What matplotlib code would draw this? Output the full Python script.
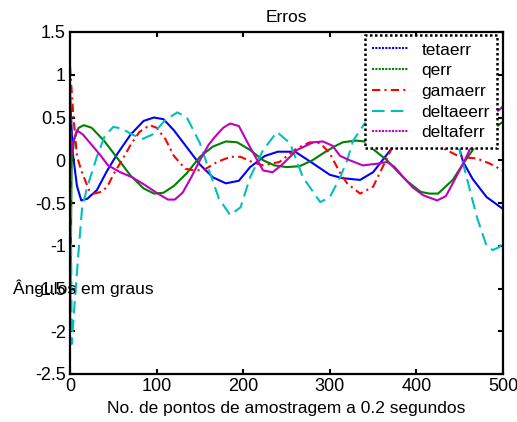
import matplotlib
matplotlib.use("Agg")
import matplotlib.pyplot as plt
from matplotlib.lines import Line2D
from matplotlib.ticker import FixedLocator, FuncFormatter

plt.rcParams['font.family'] = ['Liberation Sans', 'DejaVu Sans']
plt.rcParams['axes.unicode_minus'] = False

# ---- data ----
teta_x = [0, 3, 8, 13, 20, 31, 43, 55, 70, 85, 97, 108, 120, 135, 150, 165, 180, 195, 208, 225,
          240, 260, 281, 300, 315, 335, 350, 370, 385, 400, 420, 435, 447, 454, 465, 481, 500]
teta_y = [0.8, 0.1, -0.3, -0.47, -0.45, -0.35, -0.12, 0.08, 0.3, 0.46, 0.5, 0.48, 0.35, 0.15, -0.05, -0.2, -0.27, -0.24, -0.08, 0.05,
          0.1, 0.1, -0.04, -0.17, -0.21, -0.23, -0.14, 0.12, 0.3, 0.38, 0.38, 0.32, 0.23, -0.02, -0.22, -0.43, -0.57]

q_x = [0, 2, 5, 10, 16, 25, 40, 55, 70, 85, 97, 108, 120, 135, 150, 165, 180, 193, 208, 223,
       236, 250, 265, 280, 292, 305, 315, 330, 340, 350, 366, 380, 390, 405, 415, 425, 442, 454, 465, 480, 500]
q_y = [-2.0, 0.0, 0.25, 0.38, 0.41, 0.38, 0.22, 0.02, -0.18, -0.33, -0.39, -0.38, -0.3, -0.15, 0.04, 0.16, 0.22, 0.21, 0.12, 0.0,
       -0.06, -0.08, -0.07, 0.0, 0.08, 0.16, 0.21, 0.23, 0.22, 0.13, 0.0, -0.15, -0.25, -0.37, -0.39, -0.39, -0.23, -0.04, 0.12, 0.3, 0.45]

gama_x = [0, 4, 8, 13, 22, 28, 36, 43, 51, 60, 70, 80, 92, 100, 110, 120, 133, 145, 155, 170,
          185, 197, 210, 223, 242, 262, 277, 289, 300, 312, 320, 335, 350, 361, 372, 390, 410, 431, 450, 470, 485, 500]
gama_y = [1.1, 0.5, 0.05, -0.12, -0.35, -0.39, -0.37, -0.31, -0.15, 0.0, 0.18, 0.33, 0.41, 0.38, 0.25, 0.05, -0.1, -0.12, -0.11, -0.02,
          0.04, 0.04, -0.02, -0.06, -0.02, 0.14, 0.21, 0.2, 0.08, -0.15, -0.27, -0.39, -0.31, -0.08, 0.15, 0.3, 0.3, 0.14, 0.04, 0.02, -0.04, -0.12]

deltae_x = [0, 2, 5, 10, 14, 20, 31, 40, 50, 60, 72, 84, 95, 110, 124, 135, 150, 160, 172, 185,
            197, 208, 223, 239, 254, 269, 289, 300, 312, 320, 327, 345, 370, 400, 425, 440, 450, 458, 470, 481, 488, 495, 500]
deltae_y = [1.0, -2.15, -1.72, -1.05, -0.55, -0.31, 0.04, 0.28, 0.39, 0.37, 0.3, 0.25, 0.3, 0.47, 0.56, 0.5, 0.2, -0.1, -0.45, -0.64,
            -0.55, -0.2, 0.12, 0.33, 0.2, -0.2, -0.49, -0.43, -0.2, 0.0, 0.23, 0.5, 0.7, 0.75, 0.6, 0.35, 0.12, -0.2, -0.67, -1.0, -1.05, -1.02, -0.97]

deltaf_x = [0, 3, 8, 15, 25, 35, 44, 58, 72, 85, 100, 113, 121, 130, 140, 150, 160, 167, 177, 185,
            195, 208, 223, 234, 245, 262, 281, 292, 303, 312, 323, 338, 355, 366, 375, 385, 396, 408, 424, 434,
            442, 454, 465, 480, 500]
deltaf_y = [-0.1, 0.2, 0.35, 0.3, 0.18, 0.06, -0.06, -0.14, -0.2, -0.28, -0.38, -0.46, -0.46, -0.38, -0.2, 0.0, 0.18, 0.27, 0.38, 0.43,
            0.4, 0.15, -0.12, -0.14, -0.05, 0.12, 0.21, 0.22, 0.17, 0.05, 0.0, -0.06, -0.04, -0.02, -0.08, -0.2, -0.32, -0.41, -0.47, -0.42,
            -0.27, -0.04, 0.2, 0.45, 0.63]

labels = ['tetaerr', 'qerr', 'gamaerr', 'deltaeerr', 'deltaferr']
colors = ['#0000ff', '#008000', '#ff0000', '#00bfbf', '#bf00bf']
x_ticks = [0, 100, 200, 300, 400, 500]
y_ticks = [-2.5, -2, -1.5, -1, -0.5, 0, 0.5, 1, 1.5]
title = 'Erros'
xlabel = 'No. de pontos de amostragem a 0.2 segundos'
ylabel = 'Ângulos em graus'

# ---- figure ----
W, H = 517, 422
fig = plt.figure(figsize=(W / 100, H / 100), dpi=100)
ax = fig.add_axes([70 / W, 1 - 374 / H, (503 - 70) / W, (374 - 32) / H])

lw = 1.5
styles = ['-', '-', (0, (4, 2, 1, 2)), (0, (6, 3)), '-']
series = [(teta_x, teta_y), (q_x, q_y), (gama_x, gama_y), (deltae_x, deltae_y), (deltaf_x, deltaf_y)]
for (xs, ys), c, ls in zip(series, colors, styles):
    ax.plot(xs, ys, color=c, linestyle=ls, linewidth=lw)

ax.set_xlim(0, 500)
ax.set_ylim(-2.5, 1.5)
ax.xaxis.set_major_locator(FixedLocator(x_ticks))
ax.yaxis.set_major_locator(FixedLocator(y_ticks))
ax.yaxis.set_major_formatter(FuncFormatter(lambda v, p: '%g' % v))
ax.tick_params(direction='in', top=True, right=True, length=3.5, width=1.5,
               labelsize=13, pad=3)
for s in ax.spines.values():
    s.set_linewidth(1.6)

fig.text(286.5 / W, 1 - 17 / H, title, ha='center', va='center', fontsize=12.5)
fig.text(286.5 / W, 1 - 409 / H, xlabel, ha='center', va='center', fontsize=12.5)
fig.text(13 / W, 1 - 288 / H, ylabel, ha='left', va='center', fontsize=12.5)

leg_styles = [(0, (1, 0.6)), (0, (1, 0.6)), (0, (4, 2, 1, 2)), (0, (6, 3)), (0, (1, 0.6))]
handles = [Line2D([], [], color=c, linestyle=ls, linewidth=1.5) for c, ls in zip(colors, leg_styles)]
leg = ax.legend(handles, labels, loc='upper right', bbox_to_anchor=(0.986, 0.991),
                fontsize=12.5, frameon=True, fancybox=False, framealpha=1,
                handlelength=2.1, handletextpad=0.75, labelspacing=0.32,
                borderpad=0.42, borderaxespad=0)
fr = leg.get_frame()
fr.set_edgecolor('black')
fr.set_linewidth(1.8)
fr.set_linestyle((0, (1, 1)))

fig.savefig('out.png', dpi=100)
